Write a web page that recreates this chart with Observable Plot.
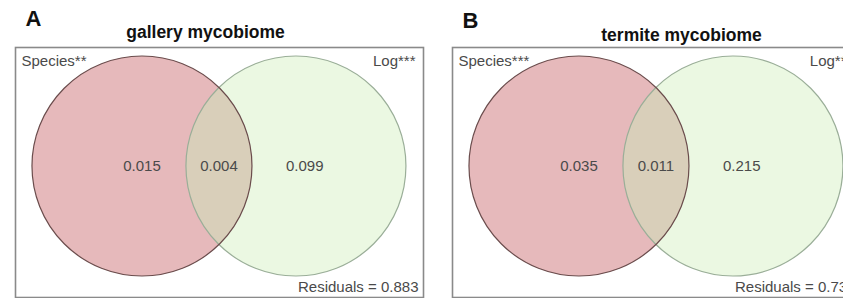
<!DOCTYPE html>
<html>
<head>
<meta charset="utf-8">
<script src="https://cdn.jsdelivr.net/npm/d3@7"></script>
<script src="https://cdn.jsdelivr.net/npm/@observablehq/plot@0.6"></script>
<style>
  html, body { margin: 0; padding: 0; background: #fff; }
  #wrap { position: relative; width: 843px; height: 298px; overflow: hidden; background: #fff; }
  .panel { position: absolute; top: 0; width: 430px; height: 298px; }
  .panel svg { max-width: none !important; }
</style>
</head>
<body>
<div id="wrap"></div>
<script>
// ---- data ----
const panelLetters = ["A", "B"];
const panelTitles = ["gallery mycobiome", "termite mycobiome"];
const setNames = ["Species", "Log"];
const setStars = [["**", "***"], ["***", "**"]];
const speciesOnly = [0.015, 0.035];
const sharedPart = [0.004, 0.011];
const logOnly = [0.099, 0.215];
const residuals = [0.883, 0.739];

// ---- styles / layout ----
const fillSpecies = "#e6b9bb";
const fillLog = "#ebf8e2";
const fillShared = "#d9cfba";
const strokeSpecies = "#6a4c4c";
const strokeLog = "#9aae98";
const textColor = "#4a4a4a";
const fmt = d3.format(".3f");
const half = 0.7;          // half distance between circle centres (radius units)
const pxPerUnit = 110;
const panelLeft = [0, 437];
const titleDx = [-14, 25];
const titleDy = [-15, -12];
const letterDy = [-29, -27];
const logDx = [-8, -14];

function lensPoints(a) {
  const th = Math.acos(a);
  const pts = [];
  const n = 60;
  for (let k = 0; k <= n; k++) {
    const t = -th + (2 * th * k) / n;
    pts.push({x: -a + Math.cos(t), y: Math.sin(t)});
  }
  for (let k = 0; k <= n; k++) {
    const t = Math.PI - th + (2 * th * k) / n;
    pts.push({x: a + Math.cos(t), y: Math.sin(t)});
  }
  return pts;
}

function panel(i) {
  const circles = [
    {set: setNames[0], cx: -half, cy: 0, r: 1},
    {set: setNames[1], cx: half, cy: 0, r: 1}
  ];
  const labels = [
    {x: -half, y: 0, v: speciesOnly[i]},
    {x: 0, y: 0, v: sharedPart[i]},
    {x: half + 0.08, y: 0, v: logOnly[i]}
  ];
  const lens = lensPoints(half);
  const txt = {fill: textColor, fontSize: 15, lineAnchor: "middle"};
  return Plot.plot({
    width: 430,
    height: 298,
    marginLeft: 15,
    marginRight: 7,
    marginTop: 47,
    marginBottom: 1,
    x: {domain: [-1.85, 1.86], axis: null},
    y: {domain: [-1.195, 1.077], axis: null},
    r: {type: "linear", domain: [0, 1], range: [0, pxPerUnit]},
    style: {fontFamily: "'Liberation Sans', Arial, sans-serif", background: "transparent", overflow: "visible", maxWidth: "none"},
    marks: [
      Plot.dot([circles[1]], {x: "cx", y: "cy", r: "r", fill: fillLog, stroke: "none"}),
      Plot.dot([circles[0]], {x: "cx", y: "cy", r: "r", fill: fillSpecies, stroke: "none"}),
      Plot.line(lens, {x: "x", y: "y", fill: fillShared, stroke: "none", curve: "linear-closed"}),
      Plot.dot([circles[1]], {x: "cx", y: "cy", r: "r", fill: "none", stroke: strokeLog, strokeWidth: 1.2}),
      Plot.dot([circles[0]], {x: "cx", y: "cy", r: "r", fill: "none", stroke: strokeSpecies, strokeWidth: 1.2}),
      Plot.frame({stroke: "#8a8a8a", strokeWidth: 1.6}),
      Plot.text(labels, {x: "x", y: "y", text: d => fmt(d.v), ...txt}),
      Plot.text([setNames[0] + setStars[i][0]], {frameAnchor: "top-left", dx: 6, dy: 14, textAnchor: "start", ...txt}),
      Plot.text([setNames[1] + setStars[i][1]], {frameAnchor: "top-right", dx: logDx[i], dy: 14, textAnchor: "end", ...txt}),
      Plot.text(["Residuals = " + fmt(residuals[i])], {frameAnchor: "bottom-right", dx: -5, dy: -10, textAnchor: "end", ...txt}),
      Plot.text([panelTitles[i]], {frameAnchor: "top", dx: titleDx[i], dy: titleDy[i], fill: "#111", fontSize: 17.5, fontWeight: "bold", lineAnchor: "middle"}),
      Plot.text([panelLetters[i]], {frameAnchor: "top-left", dx: 10, dy: letterDy[i], fill: "#111", fontSize: 22, fontWeight: "bold", lineAnchor: "middle"})
    ]
  });
}

const wrap = document.getElementById("wrap");
for (let i = 0; i < 2; i++) {
  const d = document.createElement("div");
  d.className = "panel";
  d.style.left = panelLeft[i] + "px";
  d.appendChild(panel(i));
  wrap.appendChild(d);
}
</script>
</body>
</html>
